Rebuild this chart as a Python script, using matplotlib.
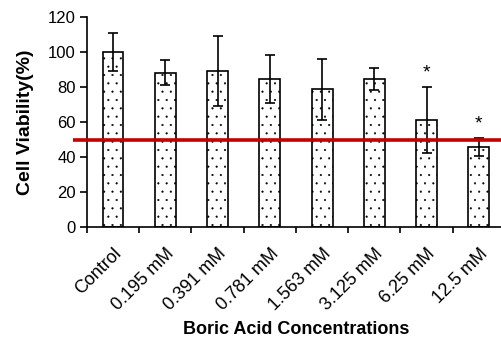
import numpy as np
import matplotlib.pyplot as plt

plt.rcParams['font.family'] = ['Liberation Sans', 'DejaVu Sans']
plt.rcParams['hatch.linewidth'] = 0.3

categories = ['Control', '0.195 mM', '0.391 mM', '0.781 mM',
              '1.563 mM', '3.125 mM', '6.25 mM', '12.5 mM']
viability = [100, 88.2, 89.3, 84.6, 78.7, 84.6, 61.1, 45.9]
errors = [10.7, 7.0, 20.0, 13.5, 17.5, 6.5, 19.0, 5.0]
significant = [False, False, False, False, False, False, True, True]
threshold = 50

fig = plt.figure(figsize=(5.02, 3.41), dpi=100)
ax = fig.add_axes([0.173, 0.334, 0.833, 0.616])

x = np.arange(len(categories))
ax.bar(x, viability, width=0.4, color='white', edgecolor='black',
       linewidth=1.2, hatch='..', zorder=2)
ax.errorbar(x, viability, yerr=errors, fmt='none', ecolor='black',
            elinewidth=1.2, capsize=3.6, capthick=1.2, zorder=3)

for xi, v, e, s in zip(x, viability, errors, significant):
    if s:
        ax.text(xi, v + e + 8, '*', ha='center', va='center', fontsize=14)

ax.hlines(threshold, -0.77, 7.6, color='#c40000', linewidth=2.6,
          clip_on=False, zorder=4)

ax.set_xlim(-0.5, 7.5)
ax.set_ylim(0, 120)
ax.set_yticks(np.arange(0, 121, 20))
ax.set_xticks(x)
ax.set_xticklabels(categories, rotation=45, ha='right', rotation_mode='anchor',
                   fontsize=13)
ax.set_xticks(np.arange(-0.5, 7.5, 1), minor=True)
ax.tick_params(axis='x', which='major', length=0, pad=13)
ax.tick_params(axis='x', which='minor', length=4, width=1.2, direction='out')
ax.tick_params(axis='y', length=5, width=1.2, labelsize=12, pad=3)

for side in ['top', 'right']:
    ax.spines[side].set_visible(False)
for side in ['left', 'bottom']:
    ax.spines[side].set_linewidth(1.2)

ax.set_ylabel('Cell Viability(%)', fontsize=14, fontweight='bold', labelpad=10)
ax.set_xlabel('Boric Acid Concentrations', fontsize=13, fontweight='bold',
              labelpad=5)

fig.savefig('out.png', dpi=100)
